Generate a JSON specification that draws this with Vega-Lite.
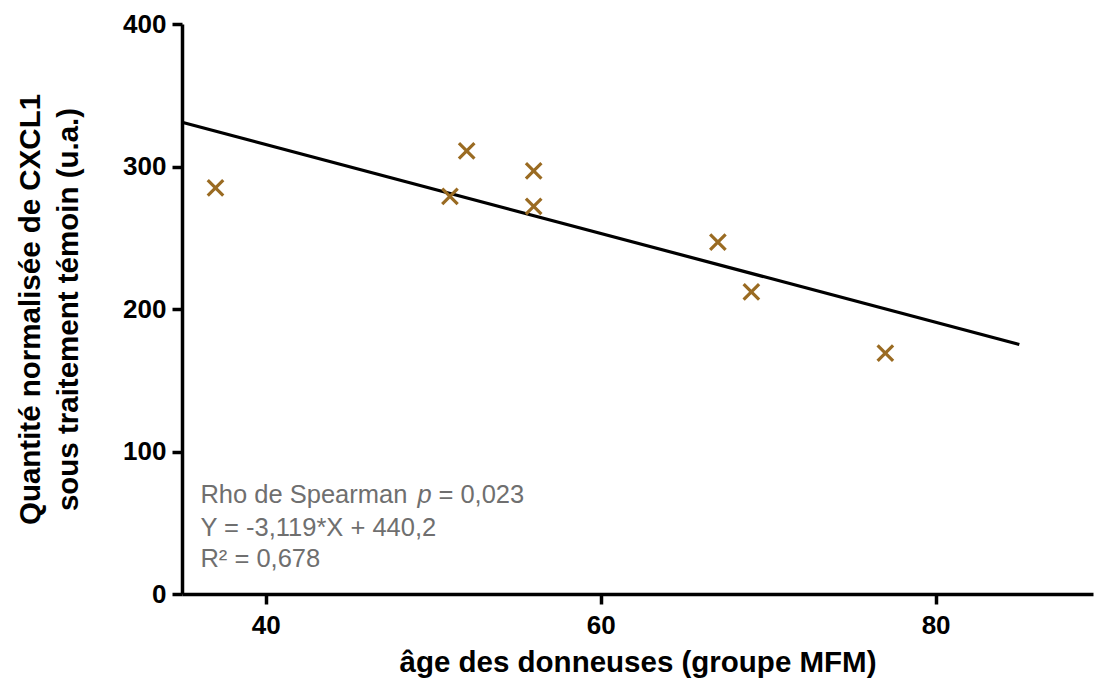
{
  "$schema": "https://vega.github.io/schema/vega-lite/v6.json",
  "autosize": "none",
  "width": 911,
  "height": 570,
  "padding": {"left": 182, "top": 24, "right": 2, "bottom": 93},
  "background": "white",
  "config": {
    "view": {"stroke": null},
    "font": "Liberation Sans",
    "axis": {
      "grid": false,
      "domainColor": "black",
      "domainWidth": 3.5,
      "tickColor": "black",
      "tickWidth": 3.5,
      "tickSize": 10,
      "labelFont": "Liberation Sans",
      "labelFontSize": 26,
      "labelFontWeight": "bold",
      "labelColor": "black",
      "titleFont": "Liberation Sans",
      "titleFontSize": 29.5,
      "titleFontWeight": "bold",
      "titleColor": "black"
    }
  },
  "datasets": {
    "pts": [
      {"age": 37, "cxcl1": 285},
      {"age": 51, "cxcl1": 279},
      {"age": 52, "cxcl1": 311},
      {"age": 56, "cxcl1": 297},
      {"age": 56, "cxcl1": 272},
      {"age": 67, "cxcl1": 247},
      {"age": 69, "cxcl1": 212},
      {"age": 77, "cxcl1": 169}
    ],
    "fit": [
      {"age": 35, "cxcl1": 331.0},
      {"age": 85, "cxcl1": 175.1}
    ],
    "notes": [
      {"age": 36.1, "cxcl1": 63.6, "t": "Rho de Spearman", "part": "a"},
      {"age": 36.1, "cxcl1": 63.6, "t": "p", "part": "b"},
      {"age": 36.1, "cxcl1": 63.6, "t": "= 0,023", "part": "c"},
      {"age": 36.1, "cxcl1": 40.9, "t": "Y = -3,119*X + 440,2", "part": "a"},
      {"age": 36.1, "cxcl1": 18.7, "t": "R² = 0,678", "part": "a"}
    ]
  },
  "encoding": {
    "x": {
      "field": "age", "type": "quantitative",
      "scale": {"domain": [35, 89.4], "nice": false, "zero": false},
      "axis": {
        "values": [40, 60, 80],
        "title": "âge des donneuses (groupe MFM)",
        "labelPadding": 8,
        "titlePadding": 10
      }
    },
    "y": {
      "field": "cxcl1", "type": "quantitative",
      "scale": {"domain": [0, 400], "nice": false},
      "axis": {
        "values": [0, 100, 200, 300, 400],
        "title": ["Quantité normalisée de CXCL1", "sous traitement témoin (u.a.)"],
        "titleLineHeight": 38,
        "labelPadding": 6,
        "titlePadding": 39
      }
    }
  },
  "layer": [
    {
      "data": {"name": "fit"},
      "mark": {"type": "line", "color": "black", "strokeWidth": 3.2, "clip": false}
    },
    {
      "data": {"name": "pts"},
      "mark": {
        "type": "point",
        "shape": "M-1,-1L1,1M1,-1L-1,1",
        "size": 240,
        "stroke": "#9a6b22",
        "strokeWidth": 3.2,
        "filled": false,
        "opacity": 1
      }
    },
    {
      "data": {"name": "notes"},
      "transform": [{"filter": "datum.part === 'a'"}],
      "mark": {"type": "text", "align": "left", "baseline": "alphabetic", "fontSize": 25.5, "color": "#6f6f6f"},
      "encoding": {"text": {"field": "t"}}
    },
    {
      "data": {"name": "notes"},
      "transform": [{"filter": "datum.part === 'b'"}],
      "mark": {"type": "text", "align": "left", "baseline": "alphabetic", "fontSize": 25.5, "fontStyle": "italic", "dx": 217, "color": "#6f6f6f"},
      "encoding": {"text": {"field": "t"}}
    },
    {
      "data": {"name": "notes"},
      "transform": [{"filter": "datum.part === 'c'"}],
      "mark": {"type": "text", "align": "left", "baseline": "alphabetic", "fontSize": 25.5, "dx": 238, "color": "#6f6f6f"},
      "encoding": {"text": {"field": "t"}}
    }
  ]
}
